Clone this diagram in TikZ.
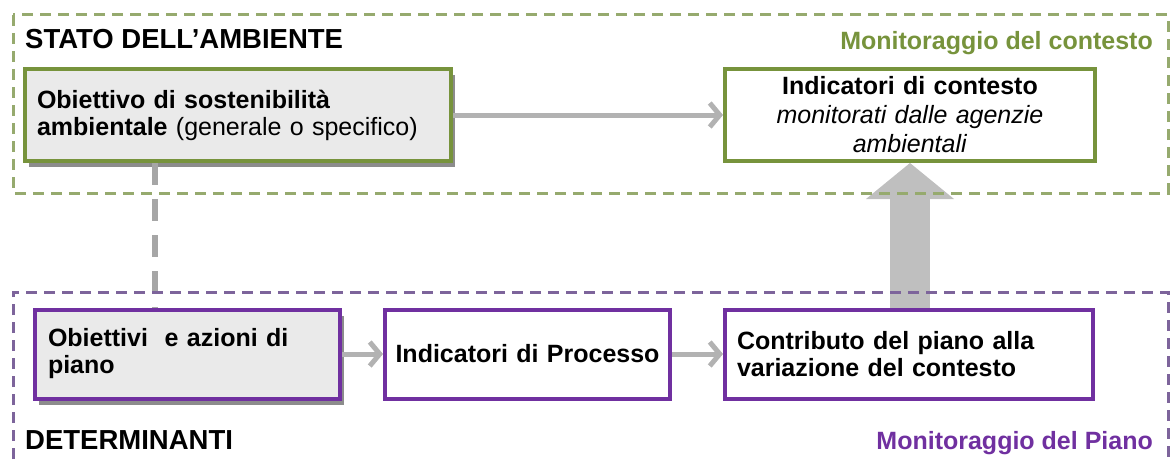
\documentclass[tikz,border=0pt]{standalone}
\usepackage{fontspec}
\setmainfont{Liberation Sans}
\usetikzlibrary{arrows.meta, positioning, shadows}

\definecolor{ctxgreen}{RGB}{119,147,60}
\definecolor{ctxframe}{RGB}{150,170,110}
\definecolor{planpurple}{RGB}{112,48,160}
\definecolor{planframe}{RGB}{125,100,155}
\definecolor{boxgray}{RGB}{234,234,234}

\begin{document}
\begin{tikzpicture}[
    x=1pt, y=1pt,
    node distance=40pt,
    box/.style={draw, line width=4pt, minimum height=92pt, inner xsep=12pt, inner ysep=0pt, font=\fontsize{25}{27}\selectfont},
    greenbox/.style={box, draw=ctxgreen},
    purplebox/.style={box, draw=planpurple, minimum height=89pt},
    shaded/.style={fill=boxgray, drop shadow={shadow xshift=4pt, shadow yshift=-6pt, fill=black!45, opacity=1}},
    arrow/.style={-{Straight Barb[length=10pt, width=24pt]}, line width=5pt, draw=black!30},
    bigarrow/.style={-{Triangle[length=36pt, width=88pt, line width=0pt 0 0]}, line width=40pt, draw=black!25, fill=black!25},
    dashlink/.style={line width=6pt, draw=black!35, dash pattern=on 22pt off 14pt},
    frame/.style={line width=3pt, dash pattern=on 11pt off 7pt},
    title/.style={font=\fontsize{27.5}{29}\selectfont\bfseries, inner sep=0pt}
]
    \useasboundingbox (0,0) rectangle (1172,459);

    % stato dell'ambiente
    \node[greenbox, shaded, text width=402pt, align=left] (obj) at (238,344)
        {\textbf{Obiettivo di sostenibilità}\\\textbf{ambientale} (generale o specifico)};
    \node[greenbox, fill=white, text width=346pt, align=center, font=\fontsize{25}{29}\selectfont, right=270pt of obj] (ctx)
        {\textbf{Indicatori di contesto}\\\textit{monitorati dalle agenzie}\\\textit{ambientali}};

    % determinanti
    \node[purplebox, shaded, text width=279pt, align=left, inner xsep=13pt] (azioni) at (187.5,105)
        {\textbf{Obiettivi\ \ e azioni di}\\\textbf{piano}};
    \node[purplebox, fill=white, text width=271pt, align=center, inner xsep=7pt, right=41pt of azioni] (proc)
        {\textbf{Indicatori di Processo}};
    \node[purplebox, fill=white, text width=344pt, align=left, right=51pt of proc] (contrib)
        {\textbf{Contributo del piano alla}\\\textbf{variazione del contesto}};

    \coordinate (lk) at (155,0);
    \draw[dashlink] (obj.south -| lk) -- (azioni.north -| lk);
    \draw[arrow] (obj) -- (ctx);
    \draw[arrow] (azioni) -- (proc);
    \draw[arrow] (proc) -- (contrib);
    \draw[bigarrow] (contrib.north -| ctx.south) -- (ctx.south);

    % cornici
    \draw[frame, draw=ctxframe] (13,444) rectangle (1168,266);
    \draw[frame, draw=planframe] (13,0) -- (13,167) -- (1168,167) -- (1168,0);

    \node[title, anchor=base west] (stato) at (25,410) {STATO DELL’AMBIENTE};
    \node[title, anchor=base east, text=ctxgreen, font=\fontsize{25}{27}\selectfont\bfseries] (monctx) at (1153,409) {Monitoraggio del contesto};
    \node[title, anchor=base west] (det) at (25,10) {DETERMINANTI};
    \node[title, anchor=base east, text=planpurple, font=\fontsize{25}{27}\selectfont\bfseries] (monpiano) at (1153,10) {Monitoraggio del Piano};
\end{tikzpicture}
\end{document}
